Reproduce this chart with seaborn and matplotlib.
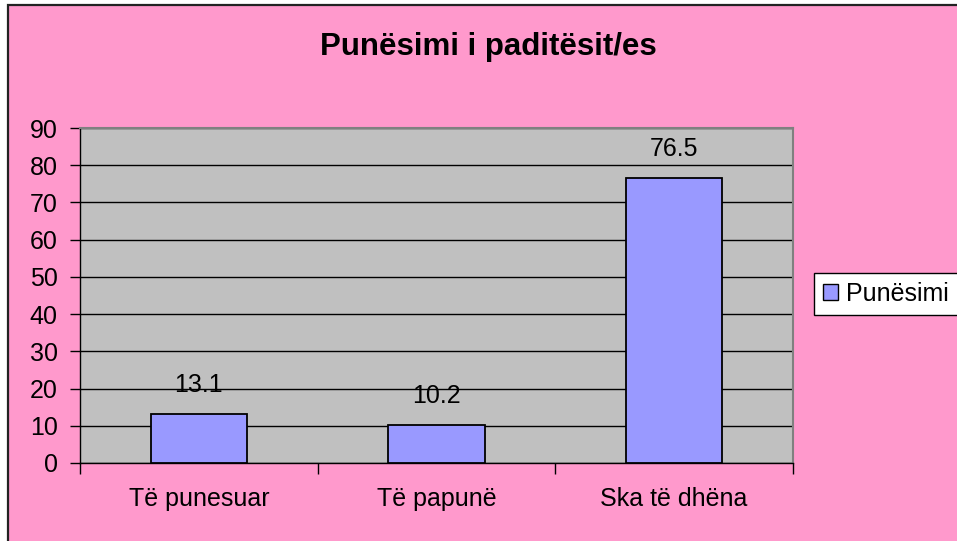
import matplotlib
matplotlib.use("Agg")
import matplotlib.pyplot as plt
import pandas as pd
import seaborn as sns
from matplotlib.patches import Rectangle, Patch

PINK = "#FF99CC"
PLOT_GRAY = "#C0C0C0"
BAR_COLOR = "#9999FF"

categories = ["Të punesuar", "Të papunë", "Ska të dhëna"]
values = [13.1, 10.2, 76.5]
series_name = "Punësimi"
title = "Punësimi i paditësit/es"
y_ticks = [0, 10, 20, 30, 40, 50, 60, 70, 80, 90]

plt.rcParams["font.family"] = ["Liberation Sans", "DejaVu Sans"]

W, H = 957, 541
fig = plt.figure(figsize=(W / 100, H / 100), dpi=100, facecolor="white")

# pink chart area with black border (clipped on right/bottom like the original)
fig.patches.append(Rectangle((8 / W, -0.1), 1.2, 1.1 - 5 / H, transform=fig.transFigure,
                             facecolor=PINK, edgecolor="#222222", linewidth=1.6, zorder=-10))

ax = fig.add_axes([80 / W, 1 - 463 / H, (793 - 80) / W, (463 - 128) / H])
ax.set_facecolor(PLOT_GRAY)

df = pd.DataFrame({"cat": categories, "val": values})
sns.barplot(data=df, x="cat", y="val", color=BAR_COLOR, edgecolor="black",
            linewidth=1.3, width=0.404, saturation=1, ax=ax, zorder=3)

for i, v in enumerate(values):
    ax.annotate(f"{v}", (i, v), xytext=(0, 21), textcoords="offset points",
                ha="center", va="center", fontsize=18, zorder=4)

ax.set_ylim(0, 90)
ax.set_yticks(y_ticks)
ax.yaxis.grid(True, color="black", linewidth=1.0, zorder=1)
ax.set_axisbelow(True)

ax.set_xlim(-0.5, 2.5)
ax.set_xticks([-0.5, 0.5, 1.5, 2.5])
ax.set_xticklabels([])
ax.set_xticks(range(len(categories)), minor=True)
ax.set_xticklabels(categories, minor=True)
ax.tick_params(axis="x", which="major", direction="out", length=8, width=1)
ax.tick_params(axis="x", which="minor", length=0, pad=17, labelsize=18)
ax.tick_params(axis="y", direction="out", length=7, width=1, pad=9, labelsize=18)

ax.set_xlabel("")
ax.set_ylabel("")

for side in ["top", "right"]:
    ax.spines[side].set_color("#808080")
    ax.spines[side].set_linewidth(1.5)
for side in ["left", "bottom"]:
    ax.spines[side].set_color("black")
    ax.spines[side].set_linewidth(1.0)

fig.text(488 / W, 1 - 47 / H, title, ha="center", va="center",
         fontsize=22.5, fontweight="bold")

handle = Patch(facecolor=BAR_COLOR, edgecolor="black", linewidth=1.0)
leg = fig.legend([handle], [series_name], loc="center left",
                 bbox_to_anchor=(814 / W, 1 - 294 / H), fontsize=18,
                 frameon=True, fancybox=False, framealpha=1,
                 handlelength=0.6, handleheight=0.6,
                 handletextpad=0.35, borderpad=0.35, borderaxespad=0)
leg.get_frame().set_edgecolor("black")
leg.get_frame().set_linewidth(1.0)
leg.get_frame().set_facecolor("white")

fig.savefig("out.png", dpi=100, facecolor=fig.get_facecolor())
